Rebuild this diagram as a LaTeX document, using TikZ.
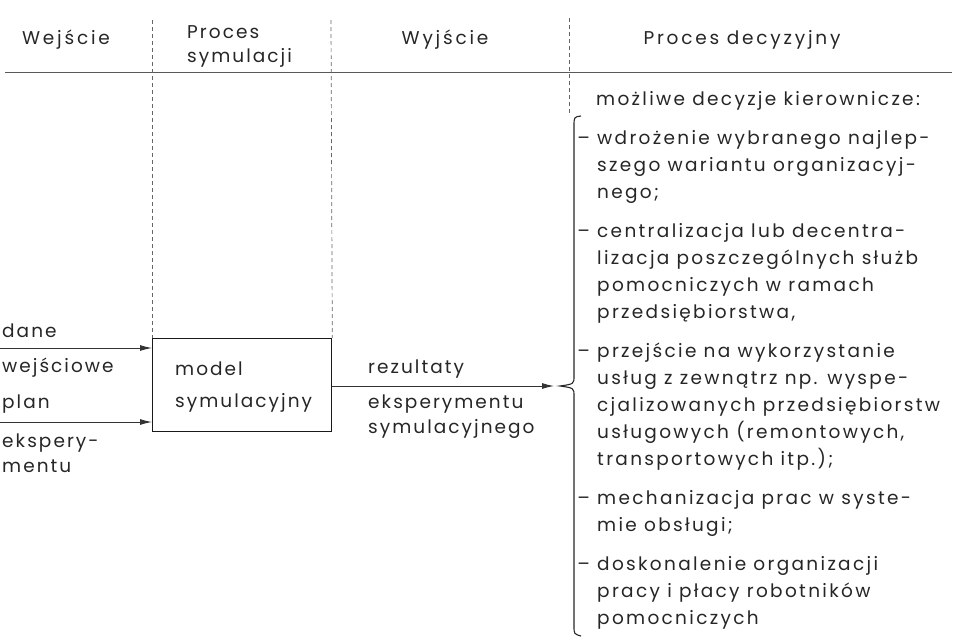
\documentclass[tikz,border=0pt]{standalone}
\usepackage{fontspec}
\setmainfont{Poppins}[LetterSpace=11]
\newfontfamily\hdrfont{Poppins}[LetterSpace=15]
\newfontfamily\colfont{Poppins}[LetterSpace=12.5]
\usetikzlibrary{arrows.meta}
\begin{document}
\begin{tikzpicture}[x=1pt,y=-1pt,
  txt/.style={anchor=base west,inner sep=0pt,font=\fontsize{18.5}{22}\selectfont,text=black!85},
  coltxt/.style={txt,font=\colfont\fontsize{18.5}{22}\selectfont},
  hdr/.style={anchor=base,inner sep=0pt,font=\hdrfont\fontsize{18.5}{22}\selectfont,text=black!85},
  rule/.style={draw=black!65,line width=0.8pt},
  divider/.style={draw=black!60,line width=0.7pt,dash pattern=on 4pt off 3pt},
  modelbox/.style={draw=black!90,line width=1.3pt,minimum width=179pt,minimum height=93pt,anchor=north west,inner sep=0pt},
  conn/.style={draw=black!80,line width=0.9pt,-{Latex[length=12pt,width=6pt]}},
  bracepath/.style={draw=black!85,line width=1.1pt}]
\useasboundingbox (0,0) rectangle (962,638);
% header
\node[hdr] (h1) at (66,44) {Wejście};
\node[txt] (h2a) at (187,38) {Proces};
\node[txt] (h2b) at (187,62) {symulacji};
\node[hdr] (h3) at (445,44) {Wyjście};
\node[hdr] (h4) at (742,44) {Proces decyzyjny};
\coordinate (hl) at (5,72);
\coordinate (hr) at (952,72);
\draw[rule] (hl) -- (hr);
% model box
\node[modelbox] (box) at (152,338) {};
\coordinate (d1) at (152,20);
\coordinate (d2) at (331,20);
\coordinate (d3) at (569,18);
\coordinate (d3b) at (569,115);
\draw[divider] (d1) -- (box.north west);
\draw[divider] (d2) -- (box.north east);
\draw[divider] (d3) -- (d3b);
\node[txt] (m1) at (175,375) {model};
\node[txt] (m2) at (175,407) {symulacyjny};
% inputs
\node[txt] (i1) at (2,337) {dane};
\node[txt] (i2) at (2,372) {wejściowe};
\node[txt] (i3) at (2,408) {plan};
\node[txt] (i4) at (2,447) {ekspery-};
\node[txt] (i5) at (2,472) {mentu};
\coordinate (a1) at (0,348);
\coordinate (a2) at (0,422);
\draw[conn] (a1) -- (a1 -| box.west);
\draw[conn] (a2) -- (a2 -| box.west);
% output
\node[txt] (o1) at (368,373) {rezultaty};
\node[txt] (o2) at (368,408) {eksperymentu};
\node[txt] (o3) at (368,433) {symulacyjnego};
\coordinate (tip) at (560,386);
\draw[conn,shorten >=6pt] (box.east |- tip) -- (tip);
% brace
\draw[bracepath] (581,116) .. controls (574,117) .. (574,126) -- (574,376)
  .. controls (574,384) .. (tip) .. controls (574,388) .. (574,396) -- (574,626)
  .. controls (574,634) .. (581,636);
% decisions
\node[coltxt] (r0) at (596,105) {możliwe decyzje kierownicze:};
\node[coltxt] (r1) at (597,144) {\llap{– }wdrożenie wybranego najlep-};
\node[coltxt] (r2) at (597,171) {szego wariantu organizacyj-};
\node[coltxt] (r3) at (597,198) {nego;};
\node[coltxt] (r4) at (597,237) {\llap{– }centralizacja lub decentra-};
\node[coltxt] (r5) at (597,264) {lizacja poszczególnych służb};
\node[coltxt] (r6) at (597,291) {pomocniczych w ramach};
\node[coltxt] (r7) at (597,318) {przedsiębiorstwa,};
\node[coltxt] (r8) at (597,357) {\llap{– }przejście na wykorzystanie};
\node[coltxt] (r9) at (597,384) {usług z zewnątrz np. wyspe-};
\node[coltxt] (r10) at (597,411) {cjalizowanych przedsiębiorstw};
\node[coltxt] (r11) at (597,438) {usługowych (remontowych,};
\node[coltxt] (r12) at (597,465) {transportowych itp.);};
\node[coltxt] (r13) at (597,504) {\llap{– }mechanizacja prac w syste-};
\node[coltxt] (r14) at (597,531) {mie obsługi;};
\node[coltxt] (r15) at (597,570) {\llap{– }doskonalenie organizacji};
\node[coltxt] (r16) at (597,597) {pracy i płacy robotników};
\node[coltxt] (r17) at (597,624) {pomocniczych};
\end{tikzpicture}
\end{document}
